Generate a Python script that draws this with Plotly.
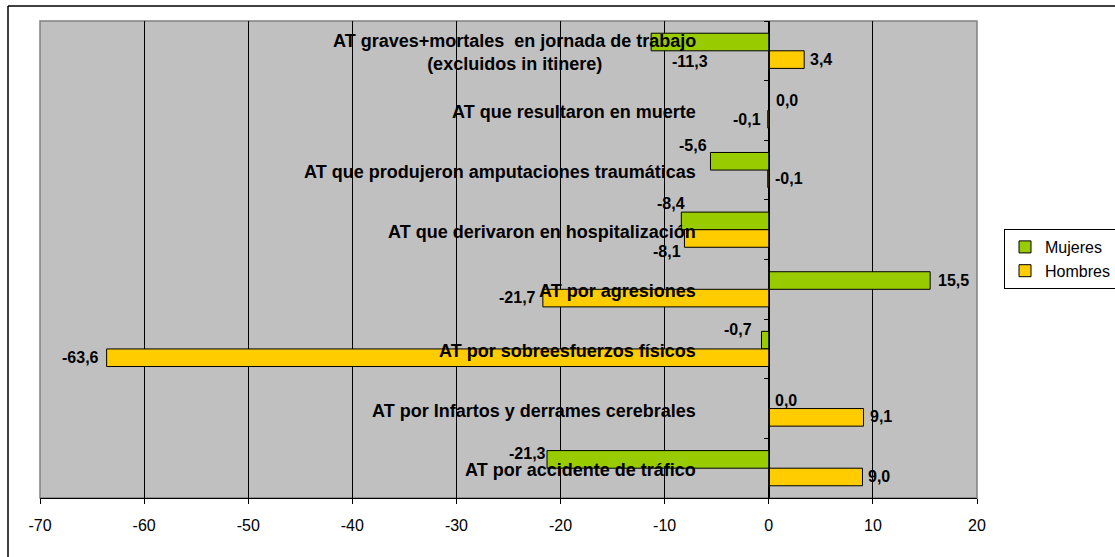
import plotly.graph_objects as go

# ---- data (top to bottom as shown) ----
categories = [
    "AT graves+mortales  en jornada de trabajo<br>(excluidos in itinere)",
    "AT que resultaron en muerte",
    "AT que produjeron amputaciones traumáticas",
    "AT que derivaron en hospitalización",
    "AT por agresiones",
    "AT por sobreesfuerzos físicos",
    "AT por Infartos y derrames cerebrales",
    "AT por accidente de tráfico",
]
mujeres = [-11.3, 0.0, -5.6, -8.4, 15.5, -0.7, 0.0, -21.3]
hombres = [3.4, -0.1, -0.1, -8.1, -21.7, -63.6, 9.1, 9.0]
series_names = ["Mujeres", "Hombres"]
x_ticks = [-70, -60, -50, -40, -30, -20, -10, 0, 10, 20]

# ---- label offsets (pixels, relative to bar end / category centre) ----
muj_off = [(39, 11), (18, -10), (-17, -25), (-10, -26), (23, -9), (-23, -19), (17, -8), (-20, -15)]
hom_off = [(17, 9), (-21, 9), (21, 8), (-17, 22), (-25, 8), (-26, 9), (17, 8), (17, 8)]

GREEN = "#99CC00"
YELLOW = "#FFCC00"
FONT = "Liberation Sans, Arial, sans-serif"

W, H = 1115, 557
ML, MR, MT, MB = 40, 138, 21, 59
xmin, xmax = x_ticks[0], x_ticks[-1]
pw = W - ML - MR
ph = H - MT - MB

fig = go.Figure()
fig.add_trace(go.Bar(
    name=series_names[0], y=categories, x=mujeres, orientation="h",
    marker=dict(color=GREEN, line=dict(color="black", width=1)),
))
fig.add_trace(go.Bar(
    name=series_names[1], y=categories, x=hombres, orientation="h",
    marker=dict(color=YELLOW, line=dict(color="black", width=1)),
))

def fmt(v):
    return f"{v:.1f}".replace(".", ",")

annotations = []
for cat, v, (dx, dy) in zip(categories, mujeres, muj_off):
    annotations.append(dict(x=v, y=cat, xref="x", yref="y", text=fmt(v), showarrow=False,
                            xanchor="center", yanchor="middle", xshift=dx, yshift=-dy,
                            font=dict(family=FONT, size=16, color="black", weight="bold")))
for cat, v, (dx, dy) in zip(categories, hombres, hom_off):
    annotations.append(dict(x=v, y=cat, xref="x", yref="y", text=fmt(v), showarrow=False,
                            xanchor="center", yanchor="middle", xshift=dx, yshift=-dy,
                            font=dict(family=FONT, size=16, color="black", weight="bold")))
# category labels
for cat in categories:
    annotations.append(dict(x=0, y=cat, xref="x", yref="y", text=cat, showarrow=False,
                            xanchor="right", yanchor="middle", xshift=-71, yshift=-2, align="center",
                            font=dict(family=FONT, size=18, color="black", weight="bold")))

zero_pos = (0 - xmin) / (xmax - xmin)
bx = (8 - ML) / pw
by = (H - MB - 6) / ph

shapes = [
    # plot-area frame (gray)
    dict(type="rect", xref="paper", yref="paper", x0=0, x1=1, y0=0, y1=1,
         line=dict(color="#808080", width=1.5), layer="below"),
    # outer chart border (top and left visible)
    dict(type="line", xref="paper", yref="paper", x0=bx, x1=1.3, y0=by, y1=by,
         line=dict(color="black", width=1.5)),
    dict(type="line", xref="paper", yref="paper", x0=bx, x1=bx, y0=by, y1=-0.3,
         line=dict(color="black", width=1.5)),
]

fig.update_layout(
    width=W, height=H,
    margin=dict(l=ML, r=MR, t=MT, b=MB, pad=0, autoexpand=False),
    paper_bgcolor="white",
    plot_bgcolor="#C0C0C0",
    barmode="group",
    bargap=0.41,
    bargroupgap=0,
    font=dict(family=FONT, color="black"),
    showlegend=True,
    legend=dict(
        x=(1004 - ML) / pw, y=(H - MB - 229) / ph, xanchor="left", yanchor="top",
        bgcolor="white", bordercolor="black", borderwidth=1,
        font=dict(family=FONT, size=16, color="black"),
        traceorder="normal", itemwidth=30,
    ),
    xaxis=dict(
        range=[xmin, xmax], tickvals=x_ticks, ticktext=[str(t) for t in x_ticks],
        showgrid=True, gridcolor="black", gridwidth=1,
        zeroline=True, zerolinecolor="black", zerolinewidth=1,
        showline=True, linecolor="black", linewidth=1,
        ticks="outside", ticklen=5, tickcolor="black",
        tickfont=dict(family=FONT, size=16, color="black"),
        ticklabelstandoff=8,
        fixedrange=True,
    ),
    yaxis=dict(
        type="category", categoryorder="array", categoryarray=categories,
        autorange="reversed",
        anchor="free", position=zero_pos,
        showline=True, linecolor="black", linewidth=1,
        ticks="outside", ticklen=5, tickcolor="black", tickson="boundaries",
        showticklabels=False, showgrid=False, zeroline=False,
        fixedrange=True,
    ),
    annotations=annotations,
    shapes=shapes,
)

fig.write_html(
    "out.html",
    config={"displayModeBar": False},
    post_script="document.body.style.margin='0';document.body.style.overflow='hidden';",
)
